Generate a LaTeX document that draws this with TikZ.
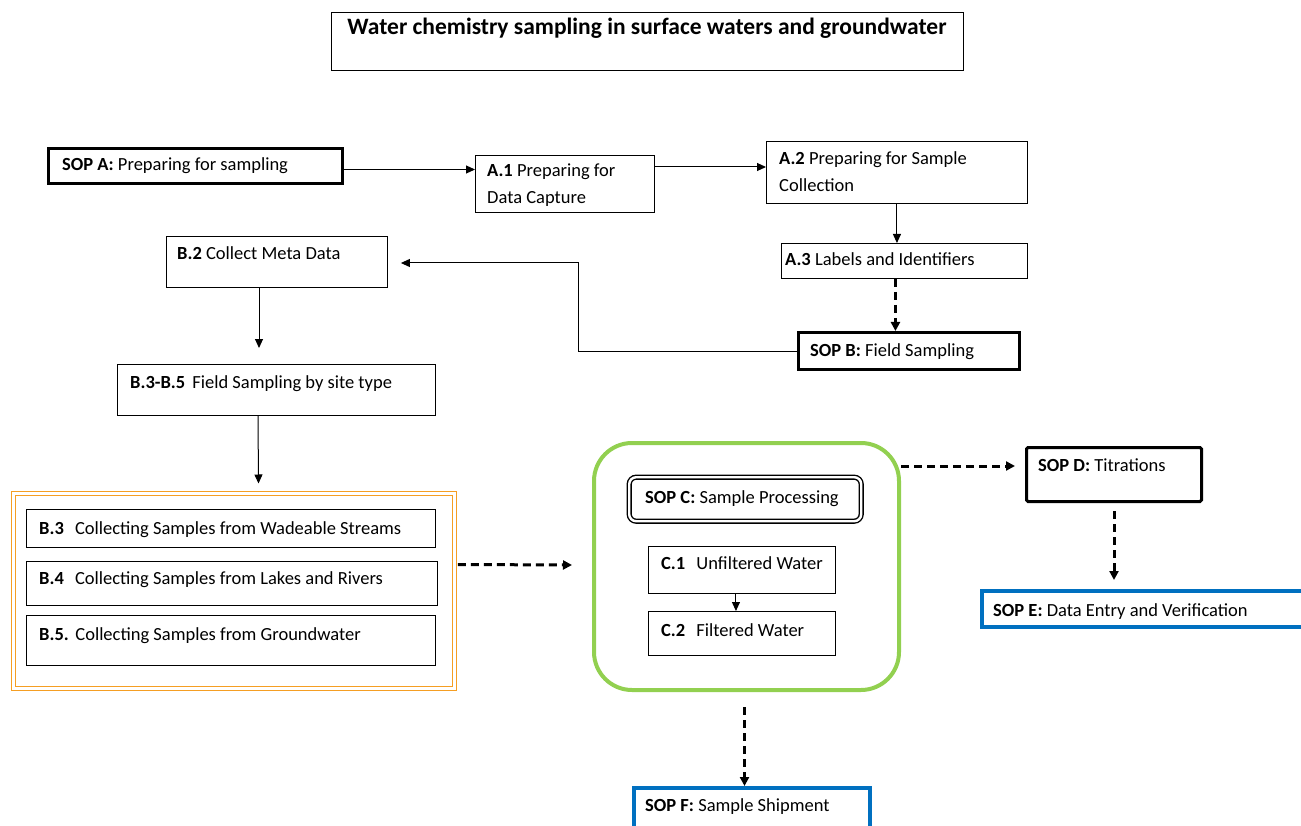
\documentclass[tikz,border=0pt]{standalone}
\usepackage{fontspec}
\setmainfont{Carlito}
\usetikzlibrary{arrows.meta,calc}
\definecolor{boxgreen}{RGB}{146,208,80}
\definecolor{boxblue}{RGB}{0,112,192}
\definecolor{boxorange}{RGB}{245,158,35}
\tikzset{
  box/.style={draw=black, line width=0.9pt, inner sep=0pt, anchor=north west, fill=none},
  thickbox/.style={box, line width=3pt},
  bluebox/.style={box, draw=boxblue, line width=3.5pt},
  txt/.style={inner sep=0pt, anchor=base west, font=\fontsize{18.5}{27}\selectfont, align=left},
  arr/.style={line width=1pt, -{Triangle[length=9pt,width=8pt]}},
  darr/.style={line width=3pt, dash pattern=on 8pt off 5pt, -{Triangle[length=9pt,width=9pt]}},
}
\begin{document}
\begin{tikzpicture}[x=1pt,y=-1pt]
\useasboundingbox (0,0) rectangle (1301,826);
% title
\node[box, minimum width=632pt, minimum height=58pt] (title) at (331,12) {};
\node[inner sep=0pt, anchor=base, font=\fontsize{23.5}{28}\selectfont\bfseries] (titletxt) at (647,35) {Water chemistry sampling in surface waters and groundwater};
% SOP A row
\node[thickbox, minimum width=294pt, minimum height=35pt] (sopa) at (47,147) {};
\node[txt] (sopat) at (62,171) {\textbf{SOP A:} Preparing for sampling};
\node[box, minimum width=179pt, minimum height=57pt] (a1) at (475,155) {};
\node[txt] (a1t) at (487,204) {\textbf{A.1} Preparing for\\Data Capture};
\node[box, minimum width=261pt, minimum height=62pt] (a2) at (766,141) {};
\node[txt] (a2t) at (779,192) {\textbf{A.2} Preparing for Sample\\Collection};
\node[box, minimum width=246pt, minimum height=35pt] (a3) at (781,243) {};
\node[txt] (a3t) at (785,266) {\textbf{A.3} Labels and Identifiers};
\node[thickbox, minimum width=221pt, minimum height=37pt] (sopb) at (797,331) {};
\node[txt] (sopbt) at (810,356) {\textbf{SOP B:} Field Sampling};
% B column
\node[box, minimum width=221pt, minimum height=51pt] (b2) at (166,236) {};
\node[txt] (b2t) at (177,260) {\textbf{B.2} Collect Meta Data};
\node[box, minimum width=318pt, minimum height=51pt] (b35) at (117,364) {};
\node[txt] (b35t) at (130,388) {\textbf{B.3-B.5}\hspace{3pt} Field Sampling by site type};
\node[box, draw=boxorange, line width=1.4pt, double=white, double distance=2.6pt, minimum width=441pt, minimum height=195pt] (orange) at (12.5,492.5) {};
\node[box, minimum width=409pt, minimum height=38pt] (b3) at (26,509) {};
\node[txt] (b3t) at (39,534) {\textbf{B.3}\hspace{7pt} Collecting Samples from Wadeable Streams};
\node[box, minimum width=411pt, minimum height=44pt] (b4) at (26,561) {};
\node[txt] (b4t) at (39,584) {\textbf{B.4}\hspace{7pt} Collecting Samples from Lakes and Rivers};
\node[box, minimum width=409pt, minimum height=50pt] (b5) at (26,615) {};
\node[txt] (b5t) at (39,640) {\textbf{B.5.}\hspace{1pt} Collecting Samples from Groundwater};
% C group
\node[box, draw=boxgreen, line width=4pt, rounded corners=38pt, minimum width=305pt, minimum height=247pt] (green) at (592,441) {};
\node[box, line width=1.4pt, double=white, double distance=2.4pt, rounded corners=7pt, minimum width=232pt, minimum height=44pt] (sopc) at (628.5,476.5) {};
\node[txt] (sopct) at (645,503) {\textbf{SOP C:} Sample Processing};
\node[box, minimum width=187pt, minimum height=47pt] (c1) at (648,546) {};
\node[txt] (c1t) at (661,569) {\textbf{C.1}\hspace{7pt} Unfiltered Water};
\node[box, minimum width=187pt, minimum height=44pt] (c2) at (648,611) {};
\node[txt] (c2t) at (661,636) {\textbf{C.2}\hspace{7pt} Filtered Water};
% D, E, F
\node[thickbox, rounded corners=1.5pt, minimum width=175pt, minimum height=54pt] (sopd) at (1025,446) {};
\node[txt] (sopdt) at (1038,471) {\textbf{SOP D:} Titrations};
\node[bluebox, minimum width=340pt, minimum height=36pt] (sope) at (980,589) {};
\node[txt] (sopet) at (993,616) {\textbf{SOP E:} Data Entry and Verification};
\node[bluebox, minimum width=236pt, minimum height=50pt] (sopf) at (632,786) {};
\node[txt] (sopft) at (645,811) {\textbf{SOP F:} Sample Shipment};
% connectors
\draw[arr] ([yshift=-3.5pt]sopa.east) -- ([yshift=-3.5pt]sopa.east -| a1.west);
\draw[arr] ([yshift=-12pt]a1.north east) -- ([yshift=-12pt]a1.north east -| a2.west);
\draw[arr] (a2.south) -- (a2.south |- a3.north);
\draw[darr] ([xshift=-9pt]a3.south) -- ([xshift=-9pt]a3.south |- sopb.north);
\coordinate (kink) at (578,263);
\draw[arr] (sopb.west) -| (kink) -- ([xshift=13pt]b2.east |- kink);
\draw[arr] ([xshift=93pt]b2.south west) -- ([xshift=142pt,yshift=16pt]b35.north west);
\draw[arr] ([xshift=141pt]b35.south west) -- ([xshift=246pt,yshift=9pt]orange.north west);
\draw[darr] ([xshift=3pt,yshift=-72pt]orange.north east) -- ([xshift=-20pt,yshift=-124pt]green.north west);
\draw[darr] ([yshift=-25pt]green.north east) -- ([xshift=-10pt,yshift=-20pt]sopd.north west);
\draw[darr] ([yshift=-8pt]sopd.south) -- ([yshift=9pt]sopd.south |- sope.north);
\draw[darr] ([xshift=-2pt,yshift=-15pt]green.south) -- ([xshift=-2pt]green.south |- sopf.north);
\draw[arr] ([xshift=-6pt]c1.south) -- ([xshift=-6pt]c1.south |- c2.north);
\end{tikzpicture}
\end{document}
